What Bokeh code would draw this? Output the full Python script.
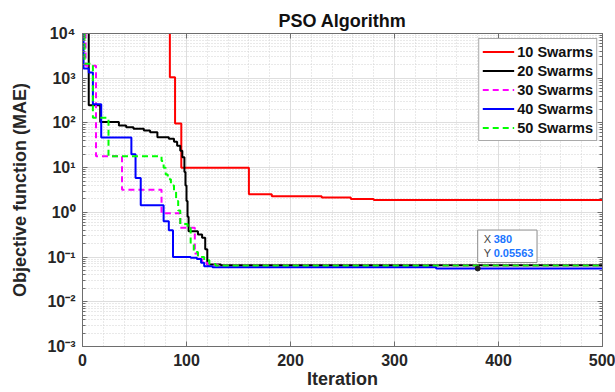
from bokeh.plotting import figure
from bokeh.models import (FixedTicker, LinearAxis, LogAxis, CustomJSTickFormatter,
                          Legend, LegendItem, Label, Range1d)
from bokeh.embed import file_html
from bokeh.resources import INLINE

FONT = "Liberation Sans"

# ---------------- data (change points: iteration -> best MAE from then on) -------------
series_names = ["10 Swarms", "20 Swarms", "30 Swarms", "40 Swarms", "50 Swarms"]
series_colors = ["#ff0000", "#000000", "#ff00ff", "#0000ff", "#00ff00"]
series_dash = ["solid", "solid", "6 4", "solid", "6 4"]

it_10 = [0, 84, 89, 95, 160, 182, 230, 258, 280, 500]
mae_10 = [25000, 1050, 97, 10, 2.55, 2.3, 2.15, 2.0, 1.9, 1.9]

it_20 = [0, 6, 17, 35, 42, 49, 59, 65, 72, 83, 88, 91, 94, 96, 98, 99, 100, 101, 102,
         111, 115, 118, 120, 133, 500]
mae_20 = [25000, 250, 105, 88, 80, 74, 68, 62, 48, 44, 38, 31, 24, 17, 8, 4, 1.8, 0.8, 0.38,
          0.32, 0.27, 0.15, 0.068, 0.066, 0.066]

it_30 = [0, 3, 13, 38, 76, 94, 108, 111, 115, 120, 130, 500]
mae_30 = [25000, 1900, 18, 3.2, 0.95, 0.45, 0.12, 0.09, 0.075, 0.068, 0.065, 0.065]

it_40 = [0, 1, 6, 10, 18, 47, 51, 56, 78, 83, 87, 104, 110, 114, 117, 125, 340, 500]
mae_40 = [25000, 1650, 1350, 260, 47, 20, 5.9, 1.45, 0.63, 0.4, 0.1, 0.097, 0.09, 0.075,
          0.062, 0.059, 0.05563, 0.05563]

it_50 = [0, 2, 10, 25, 76, 78, 80, 82, 85, 88, 90, 92, 94, 101, 104, 107, 111, 117, 122,
         128, 500]
mae_50 = [25000, 2100, 130, 18, 14, 10, 7, 5.5, 4, 3, 1.8, 1.1, 0.55, 0.45, 0.2, 0.13, 0.1,
          0.085, 0.07, 0.065, 0.065]

x_ticks = [0, 100, 200, 300, 400, 500]
x_minor = [v for v in range(0, 501, 20)]
y_ticks = [1e-3, 1e-2, 1e-1, 1e0, 1e1, 1e2, 1e3, 1e4]
y_minor = [m * d for d in y_ticks[:-1] for m in range(2, 10)]

tip_x = [380]
tip_y = [0.05563]
tip_y_text = "0.05563"

all_it = [it_10, it_20, it_30, it_40, it_50]
all_mae = [mae_10, mae_20, mae_30, mae_40, mae_50]

# ---------------- figure ----------------
p = figure(width=615, height=392, y_axis_type="log",
           x_range=Range1d(0, 500), y_range=Range1d(1e-3, 1e4),
           output_backend="svg", toolbar_location=None, title="PSO Algorithm",
           min_border_left=82, min_border_right=13, min_border_top=33, min_border_bottom=46)
p.background_fill_color = "white"
p.border_fill_color = "white"
p.outline_line_color = "#6e6e6e"

p.title.text_font = FONT
p.title.text_font_size = "18px"
p.title.text_font_style = "bold"
p.title.align = "center"
p.title.text_color = "#111111"
p.title.offset = 0
p.title.standoff = 5

AX = "#6e6e6e"
xt = FixedTicker(ticks=x_ticks, minor_ticks=x_minor)
yt = FixedTicker(ticks=y_ticks, minor_ticks=y_minor)

sup_js = """
const sup = {"-":"\u207b","0":"\u2070","1":"\u00b9","2":"\u00b2","3":"\u00b3","4":"\u2074",
             "5":"\u2075","6":"\u2076","7":"\u2077","8":"\u2078","9":"\u2079"};
const e = Math.round(Math.log10(tick));
return "10" + String(e).split("").map(c => sup[c]).join("");
"""

xa = p.xaxis[0]
ya = p.yaxis[0]
for ax in (xa, ya):
    ax.axis_line_color = AX
    ax.major_tick_line_color = AX
    ax.minor_tick_line_color = AX
    ax.major_tick_in = 5
    ax.major_tick_out = 0
    ax.major_label_text_font = FONT
    ax.major_label_text_font_size = "16px"
    ax.major_label_text_font_style = "bold"
    ax.major_label_text_color = "#262626"
    ax.axis_label_text_font = FONT
    ax.axis_label_text_font_size = "18px"
    ax.axis_label_text_font_style = "bold"
    ax.axis_label_text_color = "#262626"

xa.ticker = xt
xa.minor_tick_in = 0
xa.minor_tick_out = 0
xa.major_label_standoff = 7
xa.axis_label = "Iteration"
xa.axis_label_standoff = 0

ya.ticker = yt
ya.formatter = CustomJSTickFormatter(code=sup_js)
ya.minor_tick_in = 3
ya.minor_tick_out = 0
ya.major_label_standoff = 7
ya.axis_label = "Objective function (MAE)"
ya.axis_label_standoff = 14

blank = "return '';"
top = LinearAxis(ticker=xt, formatter=CustomJSTickFormatter(code=blank),
                 major_tick_in=5, major_tick_out=0, minor_tick_in=0, minor_tick_out=0,
                 axis_line_color=AX, major_tick_line_color=AX, major_label_standoff=0,
                 major_label_text_font_size="1px")
right = LogAxis(ticker=yt, formatter=CustomJSTickFormatter(code=blank),
                major_tick_in=5, major_tick_out=0, minor_tick_in=3, minor_tick_out=0,
                axis_line_color=AX, major_tick_line_color=AX, minor_tick_line_color=AX,
                major_label_standoff=0, major_label_text_font_size="1px")
p.add_layout(top, "above")
p.add_layout(right, "right")

p.xgrid.ticker = xt
p.ygrid.ticker = yt
for g in (p.xgrid, p.ygrid):
    g.grid_line_color = "#dedede"
    g.grid_line_width = 1
    g.minor_grid_line_color = "#d2d2d2"
    g.minor_grid_line_dash = "1 2"
    g.minor_grid_line_width = 1

# ---------------- lines ----------------
renderers = []
for name, col, dash, xs, ys in zip(series_names, series_colors, series_dash, all_it, all_mae):
    r = p.step(xs, ys, mode="after", line_color=col, line_width=2, line_dash=dash)
    renderers.append(r)

legend = Legend(items=[LegendItem(label=n, renderers=[r]) for n, r in zip(series_names, renderers)],
                location="top_right")
legend.label_text_font = FONT
legend.label_text_font_size = "14.5px"
legend.label_text_font_style = "bold"
legend.label_text_color = "#111111"
legend.glyph_width = 32
legend.glyph_height = 19
legend.label_height = 19
legend.label_standoff = 3
legend.spacing = 0
legend.padding = 3
legend.margin = 5
legend.border_line_color = "#555555"
legend.border_line_width = 1
legend.background_fill_color = "white"
legend.background_fill_alpha = 1
p.add_layout(legend)

# ---------------- data tip ----------------
p.scatter(tip_x, tip_y, size=5, color="#222222")
box = Label(x=tip_x[0], y=tip_y[0], x_offset=0, y_offset=6, text="X\nY",
            text_align="left", text_baseline="bottom", text_font=FONT,
            text_font_size="11px", text_color="#444444",
            background_fill_color="white", background_fill_alpha=0.95,
            border_line_color="#8c8c8c", border_line_width=1,
            padding=dict(left=6, right=46, top=3, bottom=3))
vals = Label(x=tip_x[0], y=tip_y[0], x_offset=16, y_offset=9,
             text="%d\n%s" % (tip_x[0], tip_y_text),
             text_align="left", text_baseline="bottom", text_font=FONT,
             text_font_size="11px", text_font_style="bold", text_color="#1a75ff")
p.add_layout(box)
p.add_layout(vals)

open("out.html", "w", encoding="utf-8").write(file_html(p, INLINE))
